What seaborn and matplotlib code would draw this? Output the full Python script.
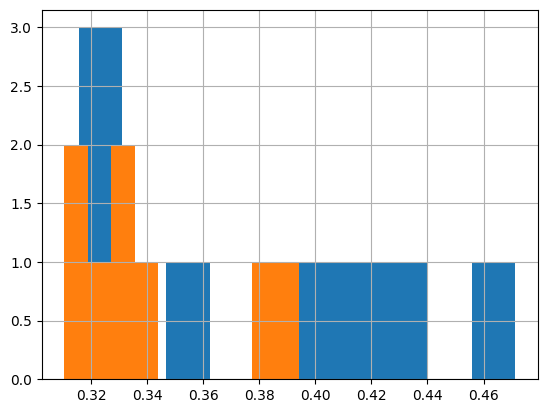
import matplotlib.pyplot as plt
import seaborn as sns

# two series, 8 values each
blue_vals = [0.3155, 0.322, 0.328, 0.355, 0.400, 0.415, 0.432, 0.4713]
orange_vals = [0.3104, 0.315, 0.323, 0.330, 0.333, 0.340, 0.381, 0.394]

fig, ax = plt.subplots(figsize=(6.4, 4.8))

for vals, color in [(blue_vals, "#1f77b4"), (orange_vals, "#ff7f0e")]:
    sns.histplot(
        x=vals,
        bins=10,
        color=color,
        alpha=1,
        linewidth=0,
        ax=ax,
    )

ax.set_ylabel("")
ax.set_xlabel("")
ax.grid(True)
fig.savefig("out.png", dpi=100, bbox_inches="tight")
